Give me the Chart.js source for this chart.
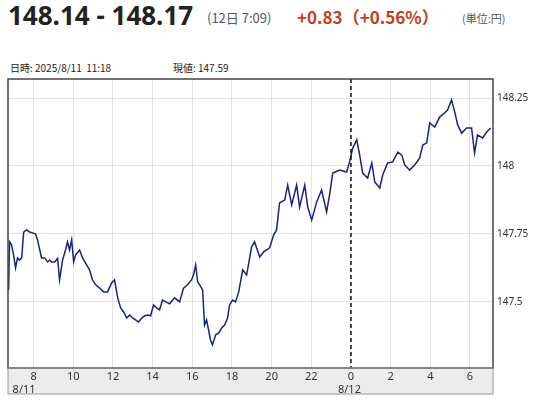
<!DOCTYPE html>
<html><head><meta charset="utf-8">
<script src="https://cdn.jsdelivr.net/npm/chart.js@4/dist/chart.umd.min.js"></script>
<style>
body{margin:0;width:535px;height:400px;position:relative;font-family:"Noto Sans CJK JP","Noto Sans",sans-serif;background:#fff;overflow:hidden}
#c{position:absolute;left:0;top:0}
.t{position:absolute;white-space:nowrap}
</style></head><body>
<div class="t" style="left:8px;top:-3px;font:bold 26px 'Noto Sans','DejaVu Sans',sans-serif;color:#222">148.14 - 148.17</div>
<div class="t" style="left:207px;top:8px;font-size:13px;color:#555">(12日 7:09)</div>
<div class="t" style="left:297px;top:4px;font:bold 17px 'Noto Sans CJK JP',sans-serif;color:#c0401a">+0.83（+0.56%）</div>
<div class="t" style="left:462px;top:10px;font-size:11px;color:#555">(単位:円)</div>
<div class="t" style="left:10px;top:60px;font-size:10px;color:#222">日時: 2025/8/11&nbsp;&nbsp;11:18</div>
<div class="t" style="left:173px;top:60px;font-size:10px;color:#222">現値: 147.59</div>
<canvas id="c" width="535" height="400"></canvas>
<script>
const hours=[6.74,6.79,6.89,6.99,7.09,7.19,7.29,7.40,7.50,7.65,7.80,7.95,8.10,8.20,8.40,8.55,8.71,8.81,8.91,9.06,9.21,9.31,9.46,9.61,9.71,9.81,9.92,10.02,10.12,10.32,10.47,10.62,10.82,10.97,11.13,11.33,11.53,11.73,11.93,12.08,12.24,12.39,12.54,12.69,12.84,12.99,13.14,13.29,13.45,13.60,13.75,13.90,14.05,14.20,14.35,14.50,14.66,14.86,15.11,15.36,15.56,15.76,15.96,16.06,16.17,16.27,16.37,16.52,16.62,16.72,16.82,16.92,17.02,17.18,17.33,17.48,17.63,17.78,17.88,18.03,18.18,18.34,18.54,18.74,18.99,19.14,19.40,19.60,19.90,20.10,20.25,20.40,20.66,20.81,21.01,21.26,21.41,21.67,21.82,22.02,22.27,22.52,22.77,22.92,23.08,23.43,23.78,23.93,24.09,24.29,24.44,24.59,24.84,25.05,25.20,25.45,25.60,25.85,26.10,26.36,26.56,26.71,26.96,27.21,27.46,27.62,27.82,27.97,28.22,28.47,28.72,28.87,29.07,29.23,29.38,29.58,29.83,30.08,30.23,30.38,30.64,30.84,31.04];
const prices=[147.544,147.721,147.710,147.673,147.625,147.662,147.654,147.662,147.757,147.765,147.757,147.754,147.750,147.728,147.662,147.662,147.647,147.654,147.647,147.647,147.660,147.581,147.654,147.691,147.721,147.691,147.728,147.647,147.673,147.691,147.662,147.643,147.618,147.581,147.563,147.551,147.537,147.537,147.570,147.581,147.515,147.478,147.463,147.441,147.452,147.441,147.434,147.426,147.441,147.449,147.452,147.449,147.489,147.478,147.471,147.507,147.500,147.493,147.515,147.500,147.551,147.563,147.581,147.599,147.636,147.574,147.563,147.544,147.415,147.434,147.397,147.360,147.342,147.379,147.386,147.404,147.415,147.441,147.489,147.507,147.500,147.537,147.618,147.599,147.702,147.721,147.665,147.684,147.699,147.746,147.765,147.864,147.875,147.930,147.857,147.930,147.849,147.930,147.849,147.801,147.868,147.912,147.831,147.893,147.974,147.985,147.978,148.015,148.066,148.096,148.040,147.974,147.956,148.011,147.941,147.919,147.967,148.011,148.015,148.051,148.040,148.004,147.985,148.004,148.029,148.077,148.085,148.158,148.143,148.180,148.195,148.206,148.243,148.199,148.151,148.121,148.140,148.140,148.048,148.114,148.103,148.125,148.140];
const xTicks=[8,10,12,14,16,18,20,22,24,26,28,30];
const xLabels=["8","10","12","14","16","18","20","22","0","2","4","6"];
const yTicks=[147.5,147.75,148,148.25];
const yLabels=["147.5","147.75","148","148.25"];
const dateMarks=[{h:8,label:"8/11"},{h:24,label:"8/12"}];
const deco={id:'deco',
 beforeDatasetsDraw(c){const a=c.chartArea,x=c.ctx;x.save();x.fillStyle='#ececec';x.fillRect(a.left,a.bottom,a.right-a.left,26);x.restore();},
 afterDatasetsDraw(c){const a=c.chartArea,x=c.ctx,s=c.scales.x;x.save();
  const px=s.getPixelForValue(24);x.strokeStyle='#111';x.lineWidth=1.5;x.setLineDash([4,3]);x.beginPath();x.moveTo(px,a.top);x.lineTo(px,a.bottom);x.stroke();x.setLineDash([]);
  x.strokeStyle='#444';x.lineWidth=1.5;x.strokeRect(a.left,a.top,a.right-a.left,a.bottom-a.top);
  x.strokeStyle='#999';x.lineWidth=1;x.strokeRect(a.left,a.bottom,a.right-a.left,26);
  x.fillStyle='#333';x.font='11px "Noto Sans",sans-serif';x.textBaseline='top';x.textAlign='center';
  xTicks.forEach((v,i)=>x.fillText(xLabels[i],s.getPixelForValue(v),a.bottom+3));
  x.textAlign='left';x.textBaseline='bottom';
  dateMarks.forEach(d=>{x.fillText(d.label,s.getPixelForValue(d.h)-21+(d.h===24?8:0),a.bottom+27);});
  x.restore();}};
new Chart(document.getElementById('c'),{type:'line',
 data:{datasets:[{data:hours.map((h,i)=>({x:h,y:prices[i]})),borderColor:'#1a237e',borderWidth:1.5,pointRadius:0,tension:0}]},
 options:{responsive:false,animation:false,
  layout:{padding:{top:79,left:8,right:0,bottom:6}},
  plugins:{legend:{display:false},tooltip:{enabled:false}},
  scales:{
   x:{type:'linear',min:6.71,max:31.16,
    afterBuildTicks(s){s.ticks=xTicks.map(v=>({value:v}));},
    afterFit(s){s.height=26;},
    grid:{color:'#e2e2e2',drawTicks:false},border:{display:false},
    ticks:{display:false}},
   y:{position:'right',min:147.257,max:148.32,
    afterBuildTicks(s){s.ticks=yTicks.map(v=>({value:v}));},
    afterFit(s){s.width=42;},
    grid:{color:'#e2e2e2',drawTicks:false},border:{display:false},
    ticks:{padding:4,color:'#333',font:{size:10,family:'Noto Sans'},callback:v=>yLabels[yTicks.indexOf(v)]}}
  }},plugins:[deco]});
</script></body></html>
